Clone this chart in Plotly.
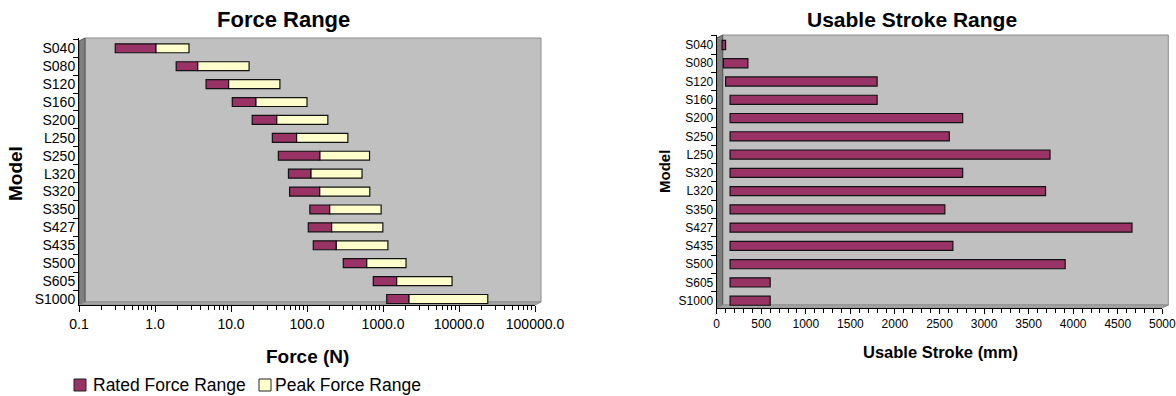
import plotly.graph_objects as go

# ---- data -------------------------------------------------------------
force_models = ["S040", "S080", "S120", "S160", "S200", "L250", "S250", "L320",
                "S320", "S350", "S427", "S435", "S500", "S605", "S1000"]
force_min = [0.3, 1.9, 4.7, 10.4, 19, 35, 42, 57, 59, 109, 104, 121, 300, 745, 1120]
rated_max = [1.03, 3.65, 9.3, 21.3, 40, 73, 148, 113, 147, 199, 211, 243, 611, 1514, 2200]
peak_max = [2.8, 17.3, 44, 100, 188, 345, 665, 530, 670, 945, 995, 1160, 2010, 8100, 23900]

stroke_models = ["S040", "S080", "S120", "S160", "S200", "S250", "L250", "S320",
                 "L320", "S350", "S427", "S435", "S500", "S605", "S1000"]
stroke_min = [60, 75, 100, 150, 150, 150, 150, 150, 150, 150, 150, 150, 150, 150, 150]
stroke_max = [100, 350, 1800, 1800, 2760, 2610, 3740, 2760, 3690, 2560, 4660, 2650, 3910, 600, 600]

force_ticks = [0.1, 1, 10, 100, 1000, 10000, 100000]
force_tick_text = ["0.1", "1.0", "10.0", "100.0", "1000.0", "10000.0", "100000.0"]

legend_names = ["Rated Force Range", "Peak Force Range"]

# ---- styling ------------------------------------------------------------
W, H = 1176, 396
FONT = "Liberation Sans, Arial, sans-serif"
PLUM = "#993366"
CREAM = "#FFFFCC"
WALL = "#C0C0C0"
SIDE = "#808080"
OUTLINE = "#111111"


def px(x):
    return x / W


def py(y):
    return 1 - y / H


fig = go.Figure()

fig.add_trace(go.Bar(
    y=force_models,
    x=[r - m for r, m in zip(rated_max, force_min)],
    base=force_min,
    orientation="h", width=0.5,
    marker=dict(color=PLUM, line=dict(color=OUTLINE, width=1.2)),
    name=legend_names[0], showlegend=False, xaxis="x", yaxis="y",
))
fig.add_trace(go.Bar(
    y=force_models,
    x=[p - r for p, r in zip(peak_max, rated_max)],
    base=rated_max,
    orientation="h", width=0.5,
    marker=dict(color=CREAM, line=dict(color=OUTLINE, width=1.2)),
    name=legend_names[1], showlegend=False, xaxis="x", yaxis="y",
))
fig.add_trace(go.Bar(
    y=stroke_models,
    x=[b - a for a, b in zip(stroke_min, stroke_max)],
    base=stroke_min,
    orientation="h", width=0.5,
    marker=dict(color=PLUM, line=dict(color=OUTLINE, width=1.2)),
    name="Usable Stroke", showlegend=False, xaxis="x2", yaxis="y2",
))

# plot-area frames in pixels
L_X0, L_X1, L_Y0, L_Y1 = 79, 535, 38, 305
R_X0, R_X1, R_Y0, R_Y1 = 716.7, 1162.3, 35, 308
D = 6  # depth of the walls

fig.update_layout(
    width=W, height=H,
    margin=dict(l=0, r=0, t=0, b=0),
    paper_bgcolor="white", plot_bgcolor="rgba(0,0,0,0)",
    barmode="overlay", showlegend=False,
    font=dict(family=FONT, color="black"),
    xaxis=dict(
        domain=[px(L_X0), px(L_X1)], anchor="y", type="log", automargin=False,
        range=[-1, 5], tickmode="array", tickvals=force_ticks, ticktext=force_tick_text,
        ticks="outside", ticklen=6, tickcolor="black", showline=True, linecolor="black",
        showgrid=False, zeroline=False, tickfont=dict(family=FONT, size=14, color="black"),
        minor=dict(ticks="outside", ticklen=4, tickcolor="black", dtick="D1", showgrid=False),
    ),
    yaxis=dict(
        domain=[py(L_Y1), py(L_Y0)], anchor="x", type="category", automargin=False,
        range=[14.335, -0.575], tickson="boundaries", ticks="outside", ticklen=5,
        tickcolor="black", showline=True, linecolor="black", showgrid=False,
        tickfont=dict(family=FONT, size=14, color="black"),
    ),
    xaxis2=dict(
        domain=[px(R_X0), px(R_X1)], anchor="y2", range=[0, 5000], dtick=500, automargin=False,
        ticks="outside", ticklen=5, tickcolor="black", showline=True, linecolor="black",
        showgrid=False, zeroline=False, tickfont=dict(family=FONT, size=12, color="black"),
        minor=dict(ticks="outside", ticklen=4, tickcolor="black", dtick=100, showgrid=False),
    ),
    yaxis2=dict(
        domain=[py(R_Y1), py(R_Y0)], anchor="x2", type="category", automargin=False,
        range=[14.4, -0.548], tickson="boundaries", ticks="outside", ticklen=5,
        tickcolor="black", showline=True, linecolor="black", showgrid=False,
        tickfont=dict(family=FONT, size=12, color="black"),
    ),
)


def wall_shapes(x0, x1, y0, y1):
    """Back wall, left side wall and floor of a 3-D style plot area (pixel coords)."""
    shapes = []
    shapes.append(dict(type="path", xref="paper", yref="paper", layer="below",
                       path=f"M{px(x0 + D)},{py(y0)} L{px(x1 + D)},{py(y0)} "
                            f"L{px(x1 + D)},{py(y1 - 3)} L{px(x0 + D)},{py(y1 - 3)} Z",
                       fillcolor=WALL, line=dict(color="#8c8c8c", width=1)))
    shapes.append(dict(type="path", xref="paper", yref="paper", layer="below",
                       path=f"M{px(x0)},{py(y0 + 3)} L{px(x0 + D)},{py(y0)} "
                            f"L{px(x0 + D)},{py(y1 - 3)} L{px(x0)},{py(y1)} Z",
                       fillcolor=SIDE, line=dict(color="#555555", width=1)))
    shapes.append(dict(type="path", xref="paper", yref="paper", layer="below",
                       path=f"M{px(x0)},{py(y1)} L{px(x0 + D)},{py(y1 - 3)} "
                            f"L{px(x1 + D)},{py(y1 - 3)} L{px(x1)},{py(y1)} Z",
                       fillcolor="#a6a6a6", line=dict(color="#8c8c8c", width=1)))
    return shapes


shapes = wall_shapes(L_X0, L_X1, L_Y0, L_Y1) + wall_shapes(R_X0, R_X1, R_Y0, R_Y1)

# legend keys below the force chart
legend_keys = [(74, PLUM), (259, CREAM)]
for (kx, colour) in legend_keys:
    shapes.append(dict(type="rect", xref="paper", yref="paper",
                       x0=px(kx), x1=px(kx + 12), y0=py(391), y1=py(379),
                       fillcolor=colour, line=dict(color="#222222", width=1)))
fig.update_layout(shapes=shapes)


def label(text, x, y, size, angle=0, bold=True, anchor="center"):
    fig.add_annotation(
        text=f"<b>{text}</b>" if bold else text, xref="paper", yref="paper",
        x=px(x), y=py(y), xanchor=anchor, yanchor="middle", showarrow=False,
        textangle=angle, font=dict(family=FONT, size=size, color="black"),
    )


label("Force Range", 283, 20, 22)
label("Force (N)", 307, 356, 19)
label("Model", 15, 174, 19, angle=-90)
label("Usable Stroke Range", 912, 20, 21)
label("Usable Stroke (mm)", 940, 352, 16.5)
label("Model", 664, 172, 15, angle=-90)
label(legend_names[0], 91, 385, 17.5, bold=False, anchor="left")
label(legend_names[1], 273, 385, 17.5, bold=False, anchor="left")

fig.write_html("out.html")
